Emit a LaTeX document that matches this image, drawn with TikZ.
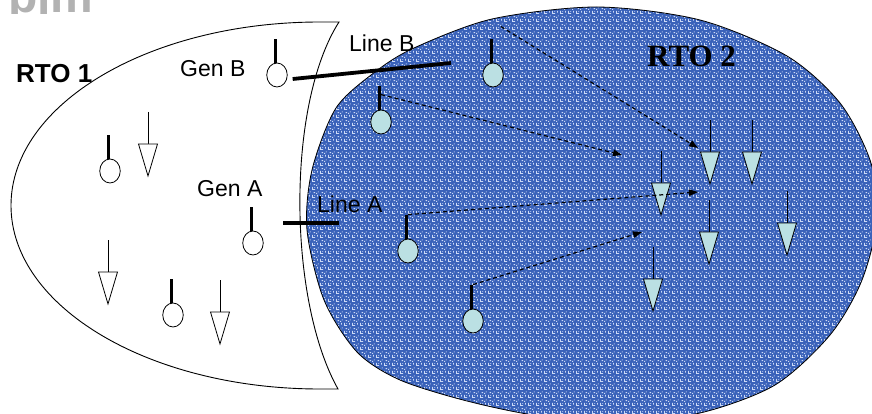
\documentclass[tikz,border=0pt]{standalone}
\usepackage{fontspec}
\setmainfont{Liberation Sans}
\newfontfamily\timesfont{Liberation Serif}
\usetikzlibrary{shapes.geometric,arrows.meta,patterns}
\definecolor{cyanfill}{RGB}{187,224,227}
\definecolor{bluebase}{RGB}{58,98,186}
\definecolor{bluelight}{RGB}{205,218,246}
\definecolor{logogray}{RGB}{178,178,178}
\pgfdeclarepatternformonly{rtotex}{\pgfqpoint{0pt}{0pt}}{\pgfqpoint{8pt}{8pt}}{\pgfqpoint{8pt}{8pt}}{%
  \pgfpathrectangle{\pgfqpoint{0pt}{0pt}}{\pgfqpoint{3.5pt}{0.9pt}}%
  \pgfpathrectangle{\pgfqpoint{0pt}{0pt}}{\pgfqpoint{0.9pt}{3.5pt}}%
  \pgfpathrectangle{\pgfqpoint{4.5pt}{4.5pt}}{\pgfqpoint{1.2pt}{1.2pt}}%
  \pgfpathrectangle{\pgfqpoint{1.8pt}{5.6pt}}{\pgfqpoint{1.8pt}{0.9pt}}%
  \pgfpathrectangle{\pgfqpoint{5.8pt}{1.6pt}}{\pgfqpoint{0.9pt}{1.8pt}}%
  \pgfpathrectangle{\pgfqpoint{2.6pt}{2.4pt}}{\pgfqpoint{0.9pt}{0.9pt}}%
  \pgfpathrectangle{\pgfqpoint{6.6pt}{6.4pt}}{\pgfqpoint{0.9pt}{0.9pt}}%
  \pgfusepath{fill}%
}
\tikzset{
  genbase/.style={ellipse, draw, line width=0.8pt, minimum width=20.5pt, minimum height=24pt, inner sep=0pt},
  genw/.style={genbase, fill=white},
  genc/.style={genbase, fill=cyanfill},
  stem/.style={line width=2.6pt},
  loadsym/.pic={
    \draw[line width=0.8pt] (0,0) -- (0,33);
    \draw[pic actions, line width=0.8pt] (-9.5,32) -- (9.5,32) -- (0,64) -- cycle;
  },
  thickline/.style={line width=3.8pt},
  flow/.style={line width=1.2pt, dash pattern=on 4pt off 3pt, -{Triangle[length=9pt,width=6.5pt]}},
  lbl/.style={anchor=base west, inner sep=0pt, font=\fontsize{23}{23}\selectfont},
}
\begin{document}
\begin{tikzpicture}[x=1pt,y=-1pt]
\useasboundingbox (0,0) rectangle (872,414);
% logo (partly cut off at the top edge, as in the reference)
\begin{scope}
  \clip (0,0) rectangle (110,14);
  \node[anchor=base west, inner sep=0pt, text=logogray, font=\bfseries\fontsize{48}{48}\selectfont] (logo) at (8,13) {pjm};
\end{scope}
% RTO 1 region
\draw[line width=0.9pt, fill=white] (339,22) -- (320,22)
  arc[start angle=270, end angle=90, x radius=309, y radius=183.5]
  -- (338,389) .. controls (288,300) and (286,105) .. (339,22) -- cycle;
% RTO 2 region
\def\rtotwo{plot[smooth cycle] coordinates {(597,7) (700,20) (787,56) (840,103) (870,160) (878,215) (862,280) (830,335) (775,385) (700,413) (620,421) (540,416) (467,401) (400,380) (357,352) (324,300) (307,230) (312,170) (336,108) (375,72) (414,48) (492,19)}}
\path[fill=bluebase] \rtotwo;
\path[pattern=rtotex, pattern color=bluelight] \rtotwo;
\draw[line width=0.8pt] \rtotwo;
% labels
\node[anchor=base west, inner sep=0pt, font=\bfseries\fontsize{26}{26}\selectfont] (rto1) at (16,83) {RTO 1};
\node[anchor=base west, inner sep=0pt, font=\timesfont\bfseries\fontsize{31}{31}\selectfont] (rto2) at (647,66.5) {RTO 2};
\node[lbl] (genBl) at (180,76.5) {Gen B};
\node[lbl] (genAl) at (197,196.5) {Gen A};
\node[lbl] (lineBl) at (349,51.5) {Line B};
\node[lbl] (lineAl) at (317,212.5) {Line A};
% RTO 1 generators
\node[genw] (gB) at (277,75) {};
\node[genw] (gA) at (253,243) {};
\node[genw] (g3) at (110,171) {};
\node[genw] (g4) at (173,315) {};
% RTO 2 generators
\node[genc] (h1) at (493,75) {};
\node[genc] (h2) at (381,122) {};
\node[genc] (h3) at (408,251) {};
\node[genc] (h4) at (473,321) {};
\foreach \g in {gB,gA,g3,g4,h1,h2,h3,h4}{
  \draw[stem] ([xshift=-1.5pt]\g.north) -- ++(0,-24);
}
% RTO 1 loads
\pic[draw, fill=white] (l1) at (148,112) {loadsym};
\pic[draw, fill=white] (l2) at (108,240) {loadsym};
\pic[draw, fill=white] (l3) at (220,280) {loadsym};
% RTO 2 loads
\pic[draw, fill=cyanfill] (m1) at (710,120) {loadsym};
\pic[draw, fill=cyanfill] (m2) at (752,120) {loadsym};
\pic[draw, fill=cyanfill] (m3) at (661,151) {loadsym};
\pic[draw, fill=cyanfill] (m4) at (709,200) {loadsym};
\pic[draw, fill=cyanfill] (m5) at (787,191) {loadsym};
\pic[draw, fill=cyanfill] (m6) at (653,247) {loadsym};
% tie lines
\coordinate (lineBend) at (451,63);
\coordinate (lineAstart) at (283,223);
\coordinate (lineAend) at (339,223);
\draw[thickline] ([shift={(5,4)}]gB.east) -- (lineBend);
\draw[line width=3.4pt] (lineAstart) -- (lineAend);
% flows
\coordinate (f1) at (698,148);
\coordinate (f2) at (622,155);
\coordinate (f3) at (698,192);
\coordinate (f4) at (642,232);
\draw[flow] ([shift={(8,-36)}]h1.north) -- (f1);
\draw[flow] ([shift={(0,-15)}]h2.north) -- (f2);
\draw[flow] ([shift={(0,-24)}]h3.north) -- (f3);
\draw[flow] ([shift={(0,-24)}]h4.north) -- (f4);
\end{tikzpicture}
\end{document}
